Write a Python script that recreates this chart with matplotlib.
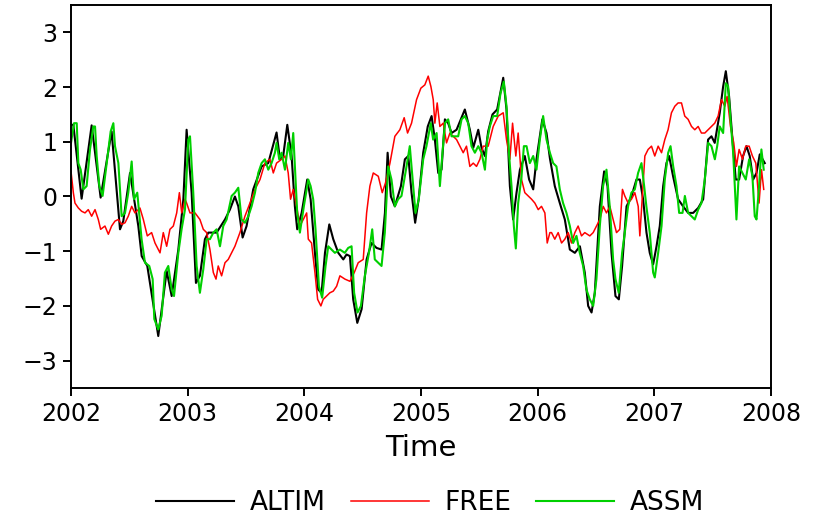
"""
plot.py
Sea level anomaly time series: altimetry vs free run vs assimilation run.
"""

import numpy as np
import matplotlib
matplotlib.use("Agg")
import matplotlib.pyplot as plt

# Series (time in years since 2002.0)
altim_t = [0.0, 0.020, 0.091, 0.177, 0.254, 0.348, 0.42, 0.448, 0.506, 0.577, 0.606,
           0.654, 0.748, 0.82, 0.863, 0.92, 0.963, 0.991, 1.034, 1.071, 1.105, 1.148,
           1.177, 1.248, 1.32, 1.362, 1.405, 1.434, 1.471, 1.505, 1.562, 1.634, 1.691,
           1.762, 1.791, 1.819, 1.854, 1.891, 1.919, 1.939, 1.977, 2.025, 2.054, 2.091,
           2.119, 2.148, 2.177, 2.214, 2.248, 2.291, 2.334, 2.362, 2.391, 2.419, 2.454,
           2.491, 2.534, 2.576, 2.619, 2.662, 2.691, 2.714, 2.742, 2.776, 2.828, 2.862,
           2.891, 2.919, 2.950, 2.980, 3.019, 3.058, 3.091, 3.119, 3.148, 3.176, 3.205,
           3.233, 3.262, 3.305, 3.376, 3.419, 3.448, 3.491, 3.519, 3.548, 3.576, 3.613,
           3.653, 3.705, 3.733, 3.762, 3.790, 3.819, 3.848, 3.890, 3.927, 3.962, 3.990,
           4.040, 4.076, 4.105, 4.147, 4.190, 4.233, 4.276, 4.319, 4.362, 4.404, 4.433,
           4.462, 4.490, 4.533, 4.570, 4.599, 4.633, 4.667, 4.696, 4.724, 4.762, 4.804,
           4.847, 4.876, 4.904, 4.933, 4.961, 4.990, 5.019, 5.047, 5.076, 5.104, 5.127,
           5.161, 5.204, 5.247, 5.290, 5.333, 5.376, 5.419, 5.461, 5.490, 5.518, 5.561,
           5.590, 5.613, 5.641, 5.670, 5.698, 5.727, 5.761, 5.790, 5.818, 5.847, 5.876,
           5.904, 5.947]
altim_v = [1.31, 1.31, -0.04, 1.30, -0.02, 1.19, -0.60, -0.45, 0.43, -0.54, -1.09,
           -1.27, -2.55, -1.36, -1.82, -0.97, -0.05, 1.22, 0.07, -1.58, -1.45, -0.78,
           -0.66, -0.66, -0.42, -0.24, 0.00, -0.18, -0.75, -0.54, 0.13, 0.55, 0.61,
           1.17, 0.68, 0.74, 1.31, 0.74, -0.18, -0.60, -0.30, 0.31, -0.05, -1.03,
           -1.70, -1.76, -1.03, -0.51, -0.78, -1.03, -1.15, -1.06, -1.09, -1.88, -2.31,
           -2.06, -1.15, -0.85, -0.94, -0.97, -0.30, 0.80, 0.00, -0.18, 0.19, 0.68,
           0.74, 0.07, -0.48, -0.05, 0.80, 1.28, 1.47, 1.04, 0.43, 0.49, 1.41,
           1.34, 1.16, 1.22, 1.59, 1.22, 0.89, 1.22, 0.89, 0.74, 1.19, 1.50,
           1.59, 2.17, 1.59, 0.19, -0.42, 0.07, 0.49, 0.74, 0.31, 0.13, 0.68,
           1.41, 1.16, 0.70, 0.19, -0.12, -0.42, -0.97, -1.03, -0.91, -1.39, -2.00,
           -2.12, -1.76, -0.18, 0.46, 0.19, -1.03, -1.82, -1.88, -1.27, -0.18, 0.00,
           0.31, 0.31, -0.05, -0.66, -1.03, -1.24, -0.91, -0.54, 0.19, 0.61, 0.74,
           0.37, -0.05, -0.18, -0.30, -0.30, -0.21, -0.05, 1.04, 1.10, 0.98, 1.53,
           2.01, 2.29, 1.83, 1.04, 0.31, 0.31, 0.74, 0.92, 0.74, 0.31, 0.43,
           0.77, 0.61]

free_t = [0.0, 0.020, 0.034, 0.063, 0.091, 0.120, 0.148, 0.177, 0.206, 0.234, 0.254,
          0.291, 0.320, 0.348, 0.377, 0.406, 0.434, 0.463, 0.491, 0.520, 0.548, 0.591,
          0.620, 0.654, 0.691, 0.720, 0.763, 0.791, 0.820, 0.848, 0.877, 0.906, 0.929,
          0.949, 0.977, 0.991, 1.020, 1.063, 1.105, 1.134, 1.163, 1.191, 1.220, 1.243,
          1.262, 1.291, 1.320, 1.348, 1.377, 1.405, 1.448, 1.491, 1.534, 1.577, 1.620,
          1.662, 1.705, 1.734, 1.762, 1.805, 1.834, 1.862, 1.882, 1.905, 1.934, 1.962,
          1.991, 2.020, 2.034, 2.062, 2.091, 2.114, 2.142, 2.162, 2.191, 2.219, 2.248,
          2.277, 2.305, 2.348, 2.391, 2.428, 2.462, 2.505, 2.534, 2.562, 2.591, 2.634,
          2.668, 2.696, 2.734, 2.776, 2.819, 2.856, 2.885, 2.919, 2.962, 2.999, 3.033,
          3.062, 3.085, 3.105, 3.119, 3.139, 3.162, 3.191, 3.219, 3.248, 3.276, 3.305,
          3.333, 3.362, 3.390, 3.419, 3.448, 3.476, 3.505, 3.533, 3.576, 3.619, 3.662,
          3.705, 3.733, 3.762, 3.785, 3.813, 3.833, 3.862, 3.890, 3.919, 3.948, 3.976,
          4.005, 4.033, 4.062, 4.082, 4.105, 4.119, 4.147, 4.176, 4.205, 4.233, 4.262,
          4.290, 4.319, 4.347, 4.376, 4.404, 4.447, 4.476, 4.505, 4.533, 4.562, 4.590,
          4.619, 4.647, 4.676, 4.704, 4.727, 4.747, 4.776, 4.804, 4.833, 4.862, 4.876,
          4.919, 4.947, 4.976, 5.004, 5.033, 5.062, 5.090, 5.118, 5.147, 5.176, 5.204,
          5.233, 5.261, 5.290, 5.319, 5.347, 5.376, 5.404, 5.433, 5.461, 5.490, 5.518,
          5.547, 5.576, 5.604, 5.624, 5.653, 5.681, 5.704, 5.727, 5.756, 5.784, 5.813,
          5.841, 5.870, 5.898, 5.919, 5.938]
free_v = [0.46, 0.07, -0.12, -0.21, -0.27, -0.30, -0.24, -0.36, -0.24, -0.42, -0.60,
          -0.54, -0.69, -0.54, -0.45, -0.42, -0.51, -0.48, -0.36, -0.18, -0.30, -0.21,
          -0.42, -0.72, -0.66, -0.85, -1.03, -0.66, -0.91, -0.60, -0.54, -0.30, 0.07,
          -0.30, -0.05, -0.12, -0.30, -0.30, -0.42, -0.60, -0.66, -0.97, -1.39, -1.51,
          -1.27, -1.45, -1.21, -1.15, -1.03, -0.91, -0.66, -0.36, -0.12, 0.13, 0.31,
          0.61, 0.68, 0.43, 0.61, 0.68, 0.74, 0.43, -0.05, 0.13, -0.18, -0.54,
          -0.42, -0.30, -0.78, -0.85, -1.39, -1.88, -2.00, -1.88, -1.82, -1.76, -1.73,
          -1.64, -1.45, -1.51, -1.55, -1.39, -1.21, -1.15, -0.30, 0.19, 0.43, 0.37,
          0.07, 0.25, 0.61, 1.10, 1.22, 1.44, 1.16, 1.34, 1.77, 1.98, 2.04,
          2.20, 2.01, 1.77, 1.34, 1.71, 1.28, 1.34, 0.98, 1.16, 1.10, 1.04,
          0.92, 0.80, 0.92, 0.55, 0.61, 0.55, 0.68, 0.92, 0.92, 1.28, 1.47,
          1.53, 1.04, 0.68, 1.34, 0.74, 1.16, 0.31, 0.07, 0.01, -0.05, -0.12,
          -0.24, -0.18, -0.30, -0.85, -0.66, -0.66, -0.78, -0.66, -0.85, -0.78, -0.66,
          -0.85, -0.66, -0.54, -0.72, -0.66, -0.72, -0.66, -0.54, -0.42, -0.18, -0.30,
          -0.18, -0.42, -0.66, -0.60, 0.13, 0.01, -0.12, -0.05, 0.07, -0.18, -0.72,
          0.74, 0.86, 0.92, 0.74, 0.92, 0.80, 1.04, 1.22, 1.53, 1.65, 1.71,
          1.71, 1.47, 1.41, 1.28, 1.22, 1.28, 1.16, 1.16, 1.22, 1.28, 1.34,
          1.47, 1.77, 1.65, 1.83, 1.28, 0.98, 0.55, 0.86, 0.68, 0.92, 0.92,
          0.74, 0.61, -0.12, 0.49, 0.13]

assm_t = [0.0, 0.026, 0.049, 0.063, 0.083, 0.106, 0.134, 0.163, 0.191, 0.206, 0.220,
          0.243, 0.271, 0.306, 0.340, 0.363, 0.377, 0.406, 0.434, 0.463, 0.491, 0.520,
          0.540, 0.568, 0.605, 0.634, 0.671, 0.700, 0.714, 0.748, 0.777, 0.805, 0.834,
          0.863, 0.883, 0.920, 0.948, 0.977, 1.005, 1.020, 1.048, 1.077, 1.105, 1.134,
          1.163, 1.191, 1.220, 1.248, 1.277, 1.305, 1.334, 1.377, 1.405, 1.434, 1.462,
          1.491, 1.520, 1.548, 1.577, 1.605, 1.634, 1.662, 1.691, 1.719, 1.748, 1.762,
          1.785, 1.805, 1.834, 1.862, 1.885, 1.905, 1.919, 1.939, 1.962, 1.996, 2.034,
          2.054, 2.076, 2.096, 2.125, 2.153, 2.182, 2.205, 2.233, 2.262, 2.305, 2.347,
          2.376, 2.405, 2.427, 2.456, 2.485, 2.519, 2.554, 2.582, 2.604, 2.633, 2.662,
          2.690, 2.719, 2.747, 2.776, 2.804, 2.833, 2.876, 2.904, 2.924, 2.953, 2.981,
          3.019, 3.047, 3.084, 3.104, 3.134, 3.162, 3.182, 3.205, 3.233, 3.262, 3.291,
          3.319, 3.348, 3.376, 3.405, 3.433, 3.462, 3.491, 3.519, 3.548, 3.568, 3.590,
          3.619, 3.653, 3.682, 3.710, 3.733, 3.756, 3.776, 3.796, 3.813, 3.833, 3.862,
          3.882, 3.905, 3.933, 3.962, 3.990, 4.019, 4.047, 4.076, 4.105, 4.133, 4.161,
          4.190, 4.218, 4.247, 4.276, 4.304, 4.333, 4.361, 4.390, 4.418, 4.447, 4.476,
          4.504, 4.533, 4.561, 4.590, 4.618, 4.647, 4.667, 4.695, 4.724, 4.747, 4.775,
          4.804, 4.833, 4.861, 4.890, 4.913, 4.932, 4.961, 4.990, 5.004, 5.033, 5.062,
          5.090, 5.119, 5.139, 5.162, 5.190, 5.213, 5.242, 5.262, 5.290, 5.319, 5.347,
          5.376, 5.404, 5.433, 5.462, 5.490, 5.519, 5.539, 5.561, 5.590, 5.613, 5.633,
          5.653, 5.676, 5.690, 5.704, 5.727, 5.756, 5.784, 5.813, 5.841, 5.861, 5.876,
          5.898, 5.918, 5.938]
assm_v = [0.98, 1.34, 1.34, 0.61, 0.49, 0.13, 0.19, 0.86, 1.28, 1.28, 0.74,
          0.19, 0.01, 0.61, 1.19, 1.34, 0.92, 0.61, -0.36, -0.30, 0.07, 0.64,
          -0.05, 0.07, -0.78, -1.21, -1.27, -1.51, -2.24, -2.43, -2.18, -1.39, -1.27,
          -1.70, -1.82, -1.03, -0.60, -0.24, 1.04, 1.10, 0.07, -1.27, -1.76, -1.33,
          -0.78, -0.78, -0.66, -0.60, -0.91, -0.54, -0.42, 0.01, 0.07, 0.16, -0.42,
          -0.48, -0.36, -0.18, 0.07, 0.43, 0.61, 0.68, 0.49, 0.61, 0.80, 0.98,
          0.68, 0.80, 0.49, 0.98, 0.68, 1.16, 0.55, -0.30, -0.66, -0.18, 0.31,
          0.19, -0.05, -0.60, -1.64, -1.85, -1.27, -0.91, -0.97, -1.03, -0.97, -1.03,
          -0.94, -0.91, -1.76, -2.12, -2.00, -1.45, -1.03, -0.60, -1.15, -1.21, -1.27,
          -0.66, 0.55, 0.31, -0.18, -0.05, 0.01, 0.55, 0.92, 0.43, -0.30, -0.05,
          0.68, 0.92, 1.34, 1.04, 1.16, 0.19, 0.74, 1.34, 1.41, 1.10, 1.10,
          1.10, 1.41, 1.47, 1.34, 0.92, 0.80, 0.92, 0.80, 0.49, 1.04, 1.28,
          1.47, 1.47, 1.89, 2.10, 1.65, 0.74, 0.19, -0.54, -0.95, -0.12, 0.37,
          0.92, 0.92, 0.61, 0.74, 0.49, 1.04, 1.47, 1.04, 0.80, 0.61, 0.55,
          0.13, -0.12, -0.30, -0.54, -0.85, -0.72, -1.03, -1.27, -1.70, -1.88, -2.00,
          -1.51, -0.54, 0.19, 0.49, -0.18, -1.15, -1.51, -1.76, -1.03, -0.66, -0.18,
          0.07, 0.13, 0.43, 0.61, 0.19, -0.18, -0.66, -1.39, -1.48, -1.03, -0.54,
          0.31, 0.80, 0.92, 0.55, 0.19, -0.30, -0.30, 0.01, -0.30, -0.36, -0.42,
          -0.24, -0.12, 0.31, 0.98, 0.92, 0.68, 0.92, 1.28, 1.16, 2.07, 2.01,
          1.41, 0.80, 0.19, -0.42, 0.55, 0.43, 0.31, 0.68, 0.37, -0.36, -0.42,
          0.19, 0.86, 0.49]

series_names = ["ALTIM", "FREE", "ASSM"]
series_colors = ["black", "#ff0000", "#00d000"]
year_ticks = [2002, 2003, 2004, 2005, 2006, 2007, 2008]
y_ticks = [-3, -2, -1, 0, 1, 2, 3]

plt.rcParams["font.family"] = "DejaVu Sans"

fig = plt.figure(figsize=(8.18, 5.21), dpi=100)
ax = fig.add_axes([0.0868, 0.2553, 0.8557, 0.7351])

ax.plot(2002 + np.array(altim_t), altim_v, color=series_colors[0], lw=1.5, label=series_names[0])
ax.plot(2002 + np.array(free_t), free_v, color=series_colors[1], lw=1.1, label=series_names[1])
ax.plot(2002 + np.array(assm_t), assm_v, color=series_colors[2], lw=1.5, label=series_names[2])

ax.set_xlim(2002, 2008)
ax.set_ylim(-3.5, 3.5)
ax.set_xticks(year_ticks)
ax.set_yticks(y_ticks)
ax.tick_params(direction="out", length=6, width=1.4, labelsize=17, pad=4)
for s in ax.spines.values():
    s.set_linewidth(1.4)
ax.set_xlabel("Time", fontsize=21, labelpad=6)

fig.legend(loc="center", bbox_to_anchor=(0.526, 0.035), ncol=3, frameon=False,
           fontsize=19, handlelength=2.95, handletextpad=0.6, columnspacing=0.95)

fig.savefig("out.png", dpi=100)
